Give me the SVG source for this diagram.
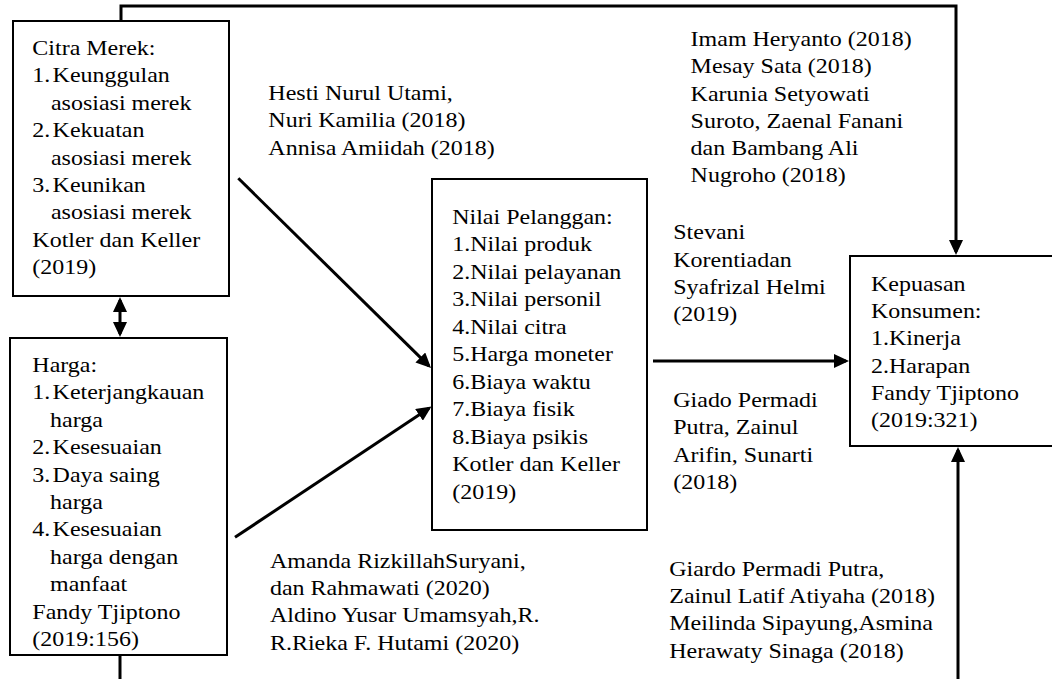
<svg xmlns="http://www.w3.org/2000/svg" width="1052" height="679" viewBox="0 0 1052 679" font-family="Liberation Serif, Tinos, Times New Roman, DejaVu Serif, serif">
<style>
.t{font-family:"Liberation Serif",Tinos,"Times New Roman","DejaVu Serif",serif;font-size:21px;fill:#000}
.box{fill:#fff;stroke:#000;stroke-width:2}
.c{fill:none;stroke:#000;stroke-width:3}
</style>
<defs>
<marker id="ah" viewBox="0 0 15 14" refX="12" refY="7" markerWidth="15" markerHeight="14" markerUnits="userSpaceOnUse" orient="auto-start-reverse">
<path d="M0,0 L15,7 L0,14 z" fill="#000"/>
</marker>
<clipPath id="clipB" clipPathUnits="userSpaceOnUse"><rect x="600" y="540" width="340" height="123"/></clipPath>
</defs>
<rect width="1052" height="679" fill="#fff"/>
<g id="connectors">
<polyline class="c" points="121,21 121,6 956,6 956,252" marker-end="url(#ah)"/>
<line class="c" x1="238.3" y1="178.3" x2="428.9" y2="365.9" marker-end="url(#ah)"/>
<line class="c" x1="235" y1="537.3" x2="429" y2="408.2" marker-end="url(#ah)"/>
<line class="c" x1="653" y1="361" x2="846" y2="361" marker-end="url(#ah)"/>
<line class="c" x1="958" y1="679" x2="958" y2="450" marker-end="url(#ah)"/>
<line class="c" x1="120" y1="655" x2="120" y2="679"/>
<line class="c" x1="120" y1="300" x2="120" y2="334" marker-start="url(#ah)" marker-end="url(#ah)"/>
</g>
<g id="citra-merek">
<rect class="box" x="13" y="21" width="216" height="275"/>
<text class="t" transform="scale(1.142857,1)">
<tspan x="28.3" y="55">Citra Merek:</tspan>
<tspan x="28.3" y="82.4">1.</tspan><tspan x="46" y="82.4">Keunggulan</tspan>
<tspan x="44.6" y="109.8">asosiasi merek</tspan>
<tspan x="28.3" y="137.2">2.</tspan><tspan x="46" y="137.2">Kekuatan</tspan>
<tspan x="44.6" y="164.6">asosiasi merek</tspan>
<tspan x="28.3" y="192">3.</tspan><tspan x="46" y="192">Keunikan</tspan>
<tspan x="44.6" y="219.4">asosiasi merek</tspan>
<tspan x="28.3" y="246.8">Kotler dan Keller</tspan>
<tspan x="28.3" y="274.2">(2019)</tspan>
</text>
</g>
<g id="harga">
<rect class="box" x="10" y="338" width="217" height="317"/>
<text class="t" transform="scale(1.142857,1)">
<tspan x="28.3" y="372">Harga:</tspan>
<tspan x="28.3" y="399.4">1.</tspan><tspan x="46" y="399.4">Keterjangkauan</tspan>
<tspan x="43.8" y="426.8">harga</tspan>
<tspan x="28.3" y="454.2">2.</tspan><tspan x="46" y="454.2">Kesesuaian</tspan>
<tspan x="28.3" y="481.6">3.</tspan><tspan x="46" y="481.6">Daya saing</tspan>
<tspan x="43.8" y="509">harga</tspan>
<tspan x="28.3" y="536.4">4.</tspan><tspan x="46" y="536.4">Kesesuaian</tspan>
<tspan x="43.8" y="563.8">harga dengan</tspan>
<tspan x="43.8" y="591.2">manfaat</tspan>
<tspan x="28.3" y="618.6">Fandy Tjiptono</tspan>
<tspan x="28.3" y="646">(2019:156)</tspan>
</text>
</g>
<g id="nilai-pelanggan">
<rect class="box" x="432" y="179" width="215" height="351"/>
<text class="t" transform="scale(1.142857,1)">
<tspan x="395.7" y="224">Nilai Pelanggan:</tspan>
<tspan x="395.7" y="251.5">1.Nilai produk</tspan>
<tspan x="395.7" y="279">2.Nilai pelayanan</tspan>
<tspan x="395.7" y="306.5">3.Nilai personil</tspan>
<tspan x="395.7" y="334">4.Nilai citra</tspan>
<tspan x="395.7" y="361.5">5.Harga moneter</tspan>
<tspan x="395.7" y="389">6.Biaya waktu</tspan>
<tspan x="395.7" y="416.5">7.Biaya fisik</tspan>
<tspan x="395.7" y="444">8.Biaya psikis</tspan>
<tspan x="395.7" y="471.5">Kotler dan Keller</tspan>
<tspan x="395.7" y="499">(2019)</tspan>
</text>
</g>
<g id="kepuasan-konsumen">
<rect class="box" x="850" y="256" width="206" height="190"/>
<text class="t" transform="scale(1.142857,1)">
<tspan x="762.1" y="291">Kepuasan</tspan>
<tspan x="762.1" y="318.2">Konsumen:</tspan>
<tspan x="762.1" y="345.4">1.Kinerja</tspan>
<tspan x="762.1" y="372.6">2.Harapan</tspan>
<tspan x="762.1" y="399.8">Fandy Tjiptono</tspan>
<tspan x="762.1" y="427">(2019:321)</tspan>
</text>
</g>
<g id="labels">
<text class="t" transform="scale(1.142857,1)">
<tspan x="234.8" y="100">Hesti Nurul Utami,</tspan>
<tspan x="234.8" y="127.4">Nuri Kamilia (2018)</tspan>
<tspan x="234.8" y="154.8">Annisa Amiidah (2018)</tspan>
</text>
<text class="t" transform="scale(1.142857,1)">
<tspan x="604.3" y="46">Imam Heryanto (2018)</tspan>
<tspan x="604.3" y="73.3">Mesay Sata (2018)</tspan>
<tspan x="604.3" y="100.6">Karunia Setyowati</tspan>
<tspan x="604.3" y="127.9">Suroto, Zaenal Fanani</tspan>
<tspan x="604.3" y="155.2">dan Bambang Ali</tspan>
<tspan x="604.3" y="182.5">Nugroho (2018)</tspan>
</text>
<text class="t" transform="scale(1.142857,1)">
<tspan x="589.1" y="239.3">Stevani</tspan>
<tspan x="589.1" y="266.7">Korentiadan</tspan>
<tspan x="589.1" y="294">Syafrizal Helmi</tspan>
<tspan x="589.1" y="321.4">(2019)</tspan>
</text>
<text class="t" transform="scale(1.142857,1)">
<tspan x="589.1" y="407">Giado Permadi</tspan>
<tspan x="589.1" y="434.4">Putra, Zainul</tspan>
<tspan x="589.1" y="461.8">Arifin, Sunarti</tspan>
<tspan x="589.1" y="489.2">(2018)</tspan>
</text>
<text class="t" transform="scale(1.142857,1)">
<tspan x="236.2" y="567.7">Amanda RizkillahSuryani,</tspan>
<tspan x="236.2" y="595.1">dan Rahmawati (2020)</tspan>
<tspan x="236.2" y="622.5">Aldino Yusar Umamsyah,R.</tspan>
<tspan x="236.2" y="649.9">R.Rieka F. Hutami (2020)</tspan>
</text>
<g clip-path="url(#clipB)">
<text class="t" transform="scale(1.142857,1)">
<tspan x="585.6" y="575.7">Giardo Permadi Putra,</tspan>
<tspan x="585.6" y="603.1">Zainul Latif Atiyaha (2018)</tspan>
<tspan x="585.6" y="630.5">Meilinda Sipayung,Asmina</tspan>
<tspan x="585.6" y="657.9">Herawaty Sinaga (2018)</tspan>
</text>
</g>
</g>
</svg>
